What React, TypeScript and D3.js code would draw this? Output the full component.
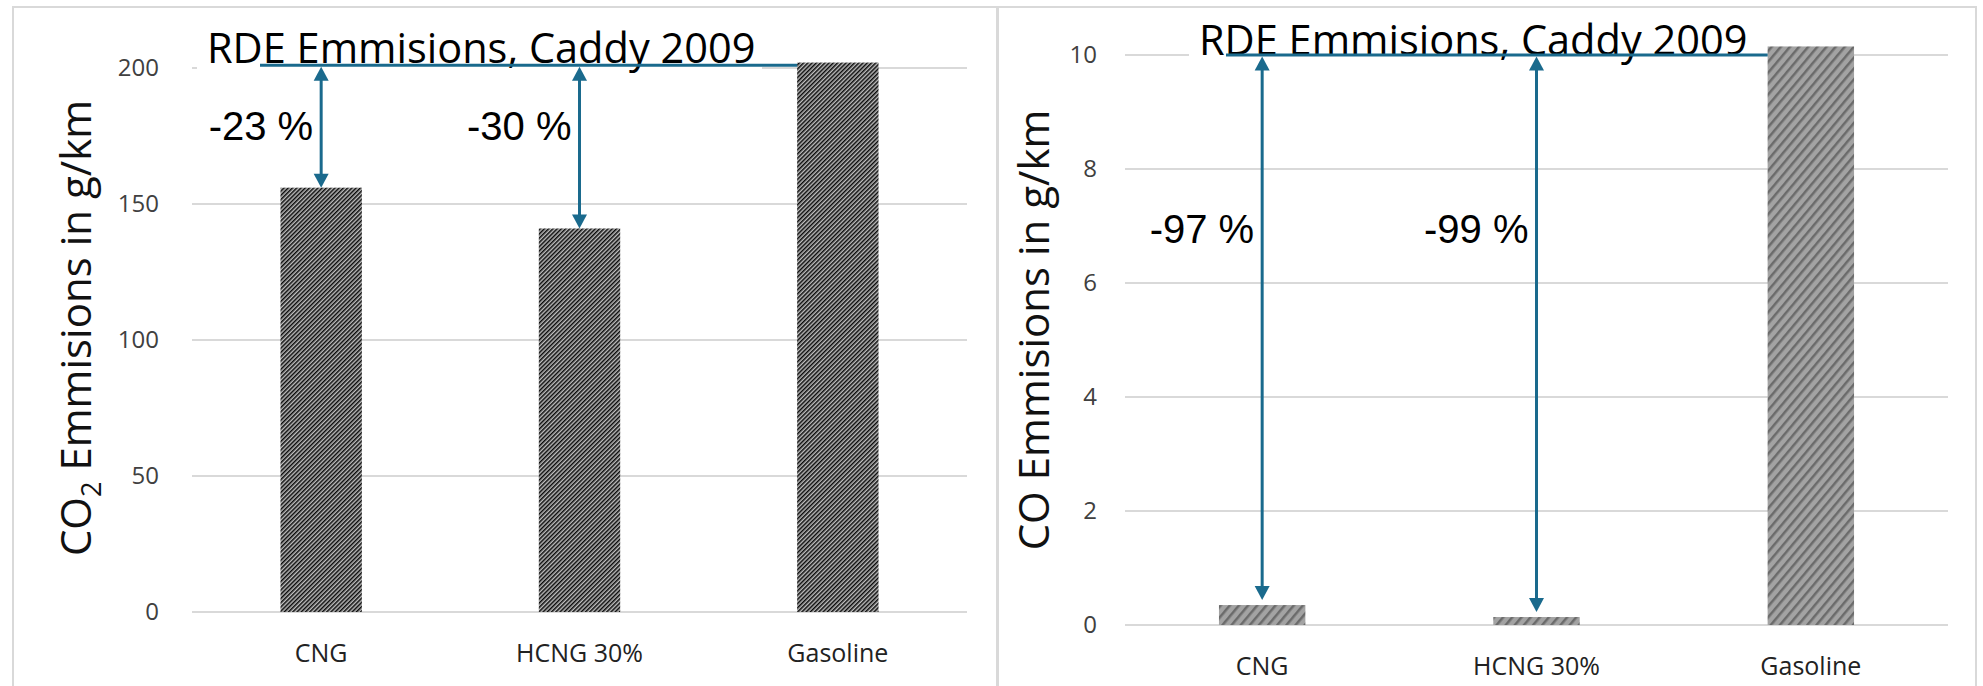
import React from "react";
import * as d3 from "d3";

// Vehicle categories and measured RDE emissions (g/km)
const categories = ["CNG", "HCNG 30%", "Gasoline"];
const co2Values = [156, 141, 202];
const coValues = [0.35, 0.14, 10.15];
const co2Ticks = [0, 50, 100, 150, 200];
const coTicks = [0, 2, 4, 6, 8, 10];

// Reference level for the percentage arrows (gasoline baseline)
const referenceCategory = "Gasoline";
const co2RefLevel = 201;
const coRefLevel = 10;
const comparedCategories = ["CNG", "HCNG 30%"];

const chartTitle = "RDE Emmisions, Caddy 2009";

const BLUE = "#1a6a8d";
const GRID = "#d9d9d9";

type PanelProps = {
  id: string;
  values: number[];
  ticks: number[];
  refLevel: number;
  yMax: number;
  xRange: [number, number];
  yRange: [number, number];
  yLabel: React.ReactNode;
  yLabelX: number;
  yLabelY: number;
  tickRight: number;
  titleX: number;
  titleY: number;
  lineStartX: number;
  pctBaseline: number;
  arrowGap: number;
  catBaseline: number;
  fill: string;
};

function Panel(p: PanelProps) {
  const x = d3
    .scaleBand<string>()
    .domain(categories)
    .range(p.xRange)
    .paddingInner(0.685)
    .paddingOuter(0.3425);
  const y = d3.scaleLinear().domain([0, p.yMax]).range(p.yRange);
  const refIdx = categories.indexOf(referenceCategory);
  const refValue = p.values[refIdx];
  const refY = y(p.refLevel);
  const bw = x.bandwidth();

  const titleW = 555;
  return (
    <g>
      {/* gridlines */}
      {p.ticks.map((t) => (
        <line
          key={"g" + t}
          x1={p.xRange[0]}
          x2={p.xRange[1]}
          y1={y(t)}
          y2={y(t)}
          stroke={GRID}
          strokeWidth={2}
        />
      ))}
      {/* tick labels */}
      {p.ticks.map((t) => (
        <text
          key={"t" + t}
          x={p.tickRight}
          y={y(t)}
          dy="0.35em"
          textAnchor="end"
          fontFamily="'Open Sans', sans-serif"
          fontSize={24}
          fill="#404040"
        >
          {t}
        </text>
      ))}
      {/* bars */}
      {categories.map((c, i) => (
        <rect
          key={"b" + c}
          x={x(c)}
          y={y(p.values[i])}
          width={bw}
          height={y(0) - y(p.values[i])}
          fill={p.fill}
        />
      ))}
      {/* category labels */}
      {categories.map((c) => (
        <text
          key={"c" + c}
          x={(x(c) as number) + bw / 2}
          y={p.catBaseline}
          textAnchor="middle"
          fontFamily="'Open Sans', sans-serif"
          fontSize={25}
          fill="#222"
        >
          {c}
        </text>
      ))}
      {/* y axis title */}
      <text
        transform={`translate(${p.yLabelX},${p.yLabelY}) rotate(-90)`}
        textAnchor="middle"
        fontFamily="'Open Sans', sans-serif"
        fontSize={42}
        fill="#111"
      >
        {p.yLabel}
      </text>
      {/* chart title with its white box */}
      <rect x={p.titleX - 10} y={p.titleY - 44} width={titleW + 10} height={58} fill="#fff" />
      <text
        x={p.titleX}
        y={p.titleY}
        fontFamily="'Open Sans', sans-serif"
        fontSize={41.5}
        fill="#000"
      >
        {chartTitle}
      </text>
      {/* reference line at the gasoline level */}
      <line
        x1={p.lineStartX}
        x2={x(referenceCategory)}
        y1={refY}
        y2={refY}
        stroke={BLUE}
        strokeWidth={3}
      />
      {/* double-headed arrows and percentage labels */}
      {comparedCategories.map((c) => {
        const i = categories.indexOf(c);
        const cx = (x(c) as number) + bw / 2;
        const top = refY + 1.5;
        const bottom = y(p.values[i]) - p.arrowGap;
        const ah = 14;
        const aw = 7.5;
        const pct = Math.round(((p.values[i] - refValue) / refValue) * 100);
        return (
          <g key={"a" + c}>
            <line x1={cx} x2={cx} y1={top + ah - 1} y2={bottom - ah + 1} stroke={BLUE} strokeWidth={3} />
            <path d={`M${cx},${top} L${cx - aw},${top + ah} L${cx + aw},${top + ah} Z`} fill={BLUE} />
            <path
              d={`M${cx},${bottom} L${cx - aw},${bottom - ah} L${cx + aw},${bottom - ah} Z`}
              fill={BLUE}
            />
            <text
              x={cx - 8}
              y={p.pctBaseline}
              textAnchor="end"
              fontFamily="'Liberation Sans', Arial, sans-serif"
              fontSize={40}
              fill="#000"
            >
              {`${pct} %`}
            </text>
          </g>
        );
      })}
    </g>
  );
}

export default function App() {
  return (
    <svg
      width={1983}
      height={686}
      style={{ position: "absolute", left: 0, top: 0, background: "#fff" }}
    >
      <defs>
        <pattern id="stripeDense" width={3} height={3} patternUnits="userSpaceOnUse" patternTransform="rotate(45)">
          <rect width={3} height={3} fill="#bdbdbd" />
          <rect width={1.5} height={3} fill="#0a0a0a" />
        </pattern>
        <pattern id="stripeWide" width={7} height={7} patternUnits="userSpaceOnUse" patternTransform="rotate(40)">
          <rect width={7} height={7} fill="#a3a3a3" />
          <rect width={2.5} height={7} fill="#6b6b6b" />
        </pattern>
      </defs>
      <rect width={1983} height={686} fill="#fff" />
      {/* panel frames */}
      <line x1={12} x2={1977} y1={7} y2={7} stroke={GRID} strokeWidth={2} />
      <line x1={13} x2={13} y1={6} y2={686} stroke={GRID} strokeWidth={2} />
      <line x1={997.5} x2={997.5} y1={6} y2={686} stroke={GRID} strokeWidth={3} />
      <line x1={1976} x2={1976} y1={6} y2={686} stroke={GRID} strokeWidth={2} />

      <Panel
        id="co2"
        values={co2Values}
        ticks={co2Ticks}
        refLevel={co2RefLevel}
        yMax={200}
        xRange={[192, 967]}
        yRange={[612, 68]}
        yLabel={
          <>
            <tspan>CO</tspan>
            <tspan dy={10} fontSize={27}>2</tspan>
            <tspan dy={-10}> Emmisions in g/km</tspan>
          </>
        }
        yLabelX={91}
        yLabelY={328}
        tickRight={159}
        titleX={207}
        titleY={63}
        lineStartX={260}
        pctBaseline={140}
        arrowGap={0}
        catBaseline={662}
        fill="url(#stripeDense)"
      />
      <Panel
        id="co"
        values={coValues}
        ticks={coTicks}
        refLevel={coRefLevel}
        yMax={10}
        xRange={[1125, 1948]}
        yRange={[625, 55]}
        yLabel={<tspan>CO Emmisions in g/km</tspan>}
        yLabelX={1049}
        yLabelY={330}
        tickRight={1097}
        titleX={1199}
        titleY={55}
        lineStartX={1226}
        pctBaseline={243}
        arrowGap={5}
        catBaseline={675}
        fill="url(#stripeWide)"
      />
    </svg>
  );
}
